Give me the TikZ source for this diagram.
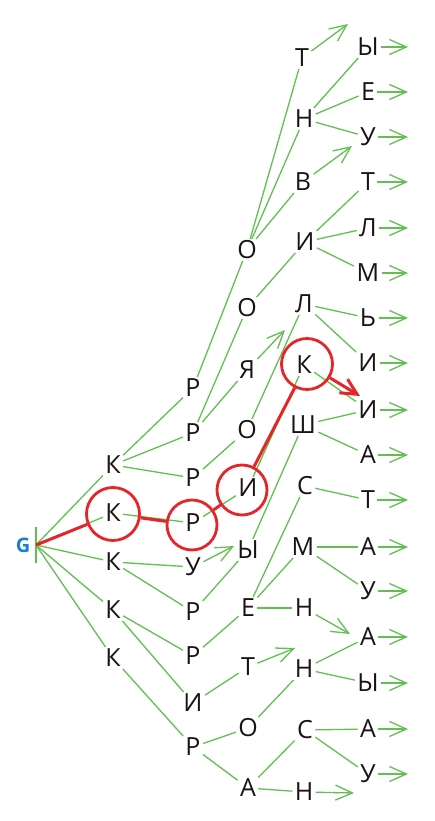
\documentclass[tikz,border=0pt]{standalone}
\usepackage{fontspec}
\setmainfont{Open Sans}
\usetikzlibrary{arrows.meta}
\definecolor{grn}{RGB}{98,192,82}
\definecolor{rd}{RGB}{228,38,40}
\definecolor{blu}{RGB}{28,125,208}
\definecolor{ink}{RGB}{25,20,20}
\begin{document}
\begin{tikzpicture}[x=1pt,y=-1pt,
  lt/.style={font=\fontsize{25}{30}\selectfont, text height=17pt, text depth=0pt, inner sep=2.3pt, text=ink},
  gl/.style={draw=grn, line width=1.3pt},
  ga/.style={draw=grn, line width=1.3pt, -{Straight Barb[length=17pt,width=15pt]}},
  rc/.style={circle, draw=rd, line width=2.8pt, inner sep=0pt},
  rl/.style={draw=rd, line width=3pt},
  ra/.style={draw=rd, line width=3pt, -{Straight Barb[length=16pt,width=16pt]}},
]
\useasboundingbox[fill=white] (0,0) rectangle (435,821);

% root
\coordinate (g) at (36,545);
\node[font=\fontsize{20}{22}\selectfont\bfseries, text=blu, inner sep=0pt] (glabel) at (23,545) {G};
\coordinate (gt) at (36,527);
\coordinate (gb) at (36,563);
\draw[grn, line width=2pt] (gt) -- (gb);

% column 1
\node[lt] (k1) at (113,465) {К};
\node[lt] (k2) at (113,513) {К};
\node[lt] (k3) at (113,562) {К};
\node[lt] (k4) at (113,610) {К};
\node[lt] (k5) at (113,658) {К};

% column 2
\node[lt] (a1) at (193,388) {Р};
\node[lt] (a2) at (193,433) {Р};
\node[lt] (a3) at (193,478) {Р};
\node[lt] (a4) at (193,523) {Р};
\node[lt] (a5) at (193,567) {У};
\node[lt] (a6) at (193,612) {Р};
\node[lt] (a7) at (193,656) {Р};
\node[lt] (a8) at (193,703) {И};
\node[lt] (a9) at (193,747) {Р};

% column 3
\node[lt] (b1) at (247,250) {О};
\node[lt] (b2) at (247,308) {О};
\node[lt] (b3) at (247,370) {Я};
\node[lt] (b4) at (247,430) {О};
\node[lt] (b5) at (248,488) {И};
\node[lt] (b6) at (248,550) {Ы};
\node[lt] (b7) at (248,608) {Е};
\node[lt] (b8) at (248,667) {Т};
\node[lt] (b9) at (248,728) {О};
\node[lt] (b10) at (248,788) {А};

% column 4
\node[lt] (c1) at (302,58) {Т};
\node[lt] (c2) at (304,119) {Н};
\node[lt] (c3) at (303,182) {В};
\node[lt] (c4) at (305,242) {И};
\node[lt] (c5) at (304,304) {Л};
\node[lt] (c6) at (304,365) {К};
\node[lt] (c7) at (303,425) {Ш};
\node[lt] (c8) at (305,486) {С};
\node[lt] (c9) at (303,547) {М};
\node[lt] (c10) at (304,608) {Н};
\node[lt] (c11) at (304,669) {Н};
\node[lt] (c12) at (305,730) {С};
\node[lt] (c13) at (304,792) {Н};

% column 5
\node[lt] (d1) at (368,47) {Ы};
\node[lt] (d2) at (368,92) {Е};
\node[lt] (d3) at (368,137) {У};
\node[lt] (d4) at (368,182) {Т};
\node[lt] (d5) at (368,228) {Л};
\node[lt] (d6) at (368,273) {М};
\node[lt] (d7) at (368,318) {Ь};
\node[lt] (d8) at (368,363) {И};
\node[lt] (d9) at (368,410) {И};
\node[lt] (d10) at (368,455) {А};
\node[lt] (d11) at (368,500) {Т};
\node[lt] (d12) at (368,547) {А};
\node[lt] (d13) at (368,591) {У};
\node[lt] (d14) at (368,637) {А};
\node[lt] (d15) at (368,683) {Ы};
\node[lt] (d16) at (368,729) {А};
\node[lt] (d17) at (368,774) {У};

% free ends of terminal arrows
\coordinate (x1) at (348,24);
\coordinate (x2) at (352,146);
\coordinate (x3) at (285,330);
\coordinate (x4) at (234,546);
\coordinate (x5) at (295,648);
\coordinate (x6) at (350,634);
\coordinate (x7) at (354,793);
\foreach \i/\y in {1/47,2/92,3/137,4/182,5/228,6/273,7/318,8/363,9/410,10/455,11/500,12/547,13/591,14/637,15/683,16/729,17/774}
  \coordinate (e\i) at (408,\y);

% green edges
\foreach \t in {k1,k2,k3,k4,k5} \draw[gl] (g) -- (\t);
\draw[gl] (k1) -- (a1); \draw[gl] (k1) -- (a2); \draw[gl] (k1) -- (a3);
\draw[gl] (k2) -- (a4);
\draw[gl] (k3) -- (a5); \draw[gl] (k3) -- (a6);
\draw[gl] (k4) -- (a7); \draw[gl] (k4) -- (a8);
\draw[gl] (k5) -- (a9);

\draw[gl] (a1) -- (b1);
\draw[gl] (a2) -- (b2); \draw[gl] (a2) -- (b3);
\draw[gl] (a3) -- (b4);
\draw[gl] (a4) -- (b5);
\draw[ga] (a5) -- (x4);
\draw[gl] (a6) -- (b6);
\draw[gl] (a7) -- (b7);
\draw[gl] (a8) -- (b8);
\draw[gl] (a9) -- (b9); \draw[gl] (a9) -- (b10);

\draw[gl] (b1) -- (c1); \draw[gl] (b1) -- (c2); \draw[gl] (b1) -- (c3);
\draw[gl] (b2) -- (c4);
\draw[ga] (b3) -- (x3);
\draw[gl] (b4) -- (c5);
\draw[gl] (b5) -- (c6);
\draw[gl] (b6) -- (c7);
\draw[gl] (b7) -- (c8); \draw[gl] (b7) -- (c9); \draw[gl] (b7) -- (c10);
\draw[ga] (b8) -- (x5);
\draw[gl] (b9) -- (c11);
\draw[gl] (b10) -- (c12); \draw[gl] (b10) -- (c13);

\draw[ga] (c1) -- (x1);
\draw[gl] (c2) -- (d1); \draw[gl] (c2) -- (d2); \draw[gl] (c2) -- (d3);
\draw[ga] (c3) -- (x2);
\draw[gl] (c4) -- (d4); \draw[gl] (c4) -- (d5); \draw[gl] (c4) -- (d6);
\draw[gl] (c5) -- (d7); \draw[gl] (c5) -- (d8);
\draw[gl] (c6) -- (d9);
\draw[gl] (c7) -- (d9); \draw[gl] (c7) -- (d10);
\draw[gl] (c8) -- (d11);
\draw[gl] (c9) -- (d12); \draw[gl] (c9) -- (d13);
\draw[ga] (c10) -- (x6);
\draw[gl] (c11) -- (d14); \draw[gl] (c11) -- (d15);
\draw[gl] (c12) -- (d16); \draw[gl] (c12) -- (d17);
\draw[ga] (c13) -- (x7);

\foreach \i in {1,...,17} \draw[ga] (d\i) -- (e\i);

% red path
\node[rc, minimum size=53pt] (r1) at (113,514) {};
\node[rc, minimum size=50pt] (r2) at (192,525) {};
\node[rc, minimum size=50pt] (r3) at (242,490) {};
\node[rc, minimum size=51pt] (r4) at (307,364) {};
\coordinate (rt) at (360,396);
\draw[rl] (g) -- (r1);
\draw[rl] (r1) -- (r2);
\draw[rl] (r2) -- (r3);
\draw[rl] (r3) -- (r4);
\draw[ra] (r4) -- (rt);
\end{tikzpicture}
\end{document}
